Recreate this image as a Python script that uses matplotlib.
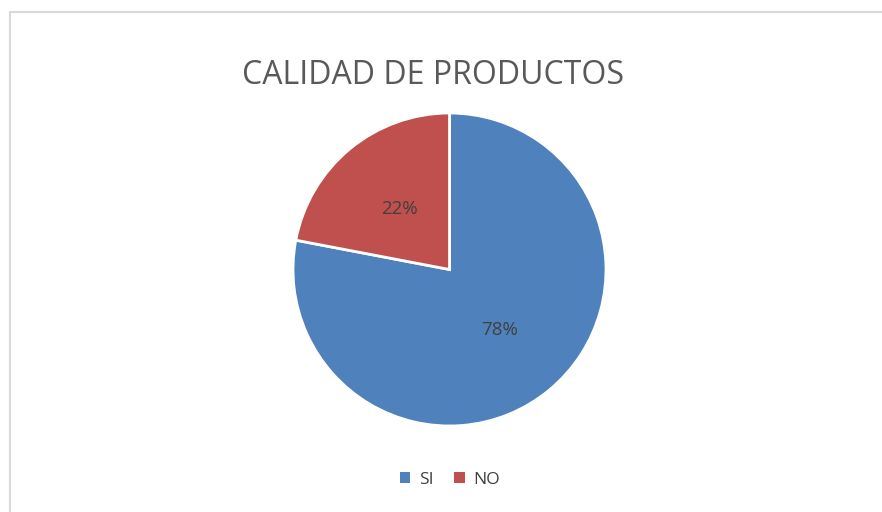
import matplotlib
matplotlib.use("Agg")
import matplotlib.pyplot as plt
from matplotlib.patches import Rectangle, Patch

categories = ["SI", "NO"]
values = [78, 22]
colors = ["#4F81BD", "#C0504D"]
title = "CALIDAD DE PRODUCTOS"

W, H = 882, 512
fig = plt.figure(figsize=(W / 100, H / 100), dpi=100)
fig.patch.set_facecolor("white")

# chart border
fig.add_artist(Rectangle((9.5 / W, -0.1), 1.2, 1 - 11.5 / H + 0.1, transform=fig.transFigure,
                         fill=False, edgecolor="#D9D9D9", linewidth=1.5))

cx, cy, r = 449.5, 269.5, 156.5
ax = fig.add_axes([(cx - r) / W, (H - cy - r) / H, 2 * r / W, 2 * r / H])
wedges, texts, autotexts = ax.pie(values, colors=colors, startangle=90, counterclock=False,
                                  autopct="%1.0f%%", pctdistance=0.5, radius=1,
                                  wedgeprops=dict(edgecolor="white", linewidth=2),
                                  textprops=dict(fontsize=13.5, color="#404040", family="Open Sans"))
ax.set_xlim(-1.0, 1.0)
ax.set_ylim(-1.0, 1.0)
ax.set_aspect("equal")
ax.axis("off")

fig.text(433 / W, 1 - 76 / H, title, ha="center", va="center", fontsize=23,
         color="#595959", family="Open Sans")

handles = [Patch(facecolor=c, edgecolor="none") for c in colors]
fig.legend(handles, categories, loc="center", bbox_to_anchor=(450 / W, 1 - 480 / H), ncol=2,
           frameon=False, handlelength=0.6, handleheight=0.6, handletextpad=0.5,
           columnspacing=1.2, prop=dict(family="Open Sans", size=12.5), labelcolor="#404040")

fig.savefig("out.png", dpi=100)
